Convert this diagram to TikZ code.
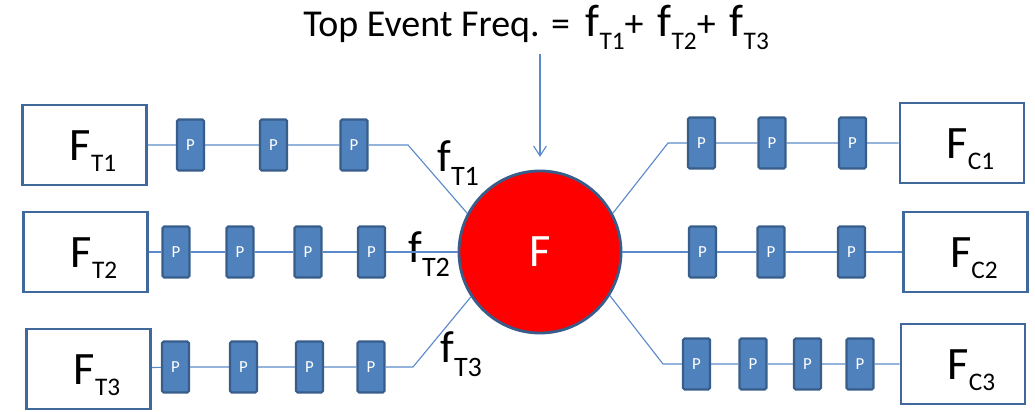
\documentclass[tikz,border=0pt]{standalone}
\usepackage{fontspec}
\setmainfont{Carlito}
\usetikzlibrary{positioning,arrows.meta}

\definecolor{boxblue}{HTML}{41689A}
\definecolor{pfill}{HTML}{4F81BD}
\definecolor{pedge}{HTML}{385D8A}
\definecolor{wireblue}{HTML}{5B8ACB}

\newcommand{\subx}[3]{\raisebox{-#3}{\fontsize{#2}{#2}\selectfont #1}}
\newcommand{\bigF}[1]{\rule{0pt}{30pt}\hspace*{12pt}F\subx{#1}{18pt}{7.5pt}}
\newcommand{\smallf}[1]{f\subx{#1}{20pt}{9.5pt}}
\newcommand{\topf}[1]{{\fontsize{32.5}{32.5}\selectfont f}\subx{#1}{18pt}{9pt}}

\begin{document}
\begin{tikzpicture}[
    x=0.025cm, y=-0.025cm,
    src/.style={
        draw=boxblue,
        line width=2pt,
        fill=white,
        minimum width=3.1cm,
        minimum height=2.0cm,
        inner sep=0pt,
        font=\fontsize{33}{33}\selectfont
    },
    pbox/.style={
        draw=pedge,
        line width=1.6pt,
        fill=pfill,
        rounded corners=1pt,
        minimum width=0.67cm,
        minimum height=1.27cm,
        inner sep=0pt,
        text=white,
        font=\fontsize{12}{12}\selectfont
    },
    flabel/.style={anchor=base west, inner sep=0pt, font=\fontsize{32}{32}\selectfont},
    wire/.style={draw=wireblue, line width=0.8pt},
    arrow/.style={wireblue, line width=0.8pt, -{Straight Barb[length=7pt,width=9pt]}}
]
\useasboundingbox (0,0) rectangle (1035,412);

% frequency node
\node[circle, draw=pedge, line width=2pt, fill=red, minimum size=4.05cm,
      inner sep=0pt, text=white, font=\fontsize{33}{33}\selectfont] (circ) at (540,252) {F};

% top event
\node[anchor=base west, inner sep=0pt, font=\fontsize{27}{27}\selectfont] (title) at (303,37)
{Top Event Freq. =\hspace{11pt}\topf{T1}+\hspace{10pt}\topf{T2}+\hspace{10pt}\topf{T3}};

% initiating events
\node[src] (ft1) at (84.5,145) {\bigF{T1}};
\node[src] (ft2) at (85.5,252) {\bigF{T2}};
\node[src] (ft3) at (88.5,369) {\bigF{T3}};

% consequences
\node[src] (fc1) at (962,143) {\bigF{C1}};
\node[src] (fc2) at (965.5,252) {\bigF{C2}};
\node[src] (fc3) at (963,364) {\bigF{C3}};

% protection layers, left
\node[pbox] (p11) at (190.5,145) {P};
\node[pbox] (p12) at (273.5,145) {P};
\node[pbox] (p13) at (354,145) {P};

\node[pbox] (p21) at (176,252) {P};
\node[pbox] (p22) at (240,252) {P};
\node[pbox] (p23) at (308,252) {P};
\node[pbox] (p24) at (371.5,252) {P};

\node[pbox] (p31) at (175.5,367) {P};
\node[pbox] (p32) at (243.5,367) {P};
\node[pbox] (p33) at (309.5,367) {P};
\node[pbox] (p34) at (371,367) {P};

% protection layers, right
\node[pbox] (q11) at (701.5,143) {P};
\node[pbox] (q12) at (772,143) {P};
\node[pbox] (q13) at (852.5,143) {P};

\node[pbox] (q21) at (702.5,252) {P};
\node[pbox] (q22) at (771,252) {P};
\node[pbox] (q23) at (851.5,252) {P};

\node[pbox] (q31) at (696.5,364) {P};
\node[pbox] (q32) at (753,364) {P};
\node[pbox] (q33) at (807.5,364) {P};
\node[pbox] (q34) at (860,364) {P};

\coordinate (k1) at (408,145);
\coordinate (k3) at (413,367);
\coordinate (m1) at (668,143);
\coordinate (m3) at (663,364);

% scenario frequencies
\node[flabel] (f1) at (437,172) {\smallf{T1}};
\node[flabel] (f2) at (408,263) {\smallf{T2}};
\node[flabel] (f3) at (440,363) {\smallf{T3}};

\draw[wire] (ft1) -- (p11) -- (p12) -- (p13) -- (k1) -- (circ.152);
\draw[wire] (ft2) -- (p21) -- (p22) -- (p23) -- (p24) -- (circ.west);
\draw[wire] (ft3) -- (p31) -- (p32) -- (p33) -- (p34) -- (k3) -- (circ.213);

\draw[wire] (circ.28) -- (m1) -- (q11) -- (q12) -- (q13) -- (fc1);
\draw[wire] (circ.east) -- (q21) -- (q22) -- (q23) -- (fc2);
\draw[wire] (circ.328) -- (m3) -- (q31) -- (q32) -- (q33) -- (q34) -- (fc3);

\draw[arrow, shorten <=3pt, shorten >=9pt] (title.south -| circ.north) -- (circ.north);

\end{tikzpicture}
\end{document}
